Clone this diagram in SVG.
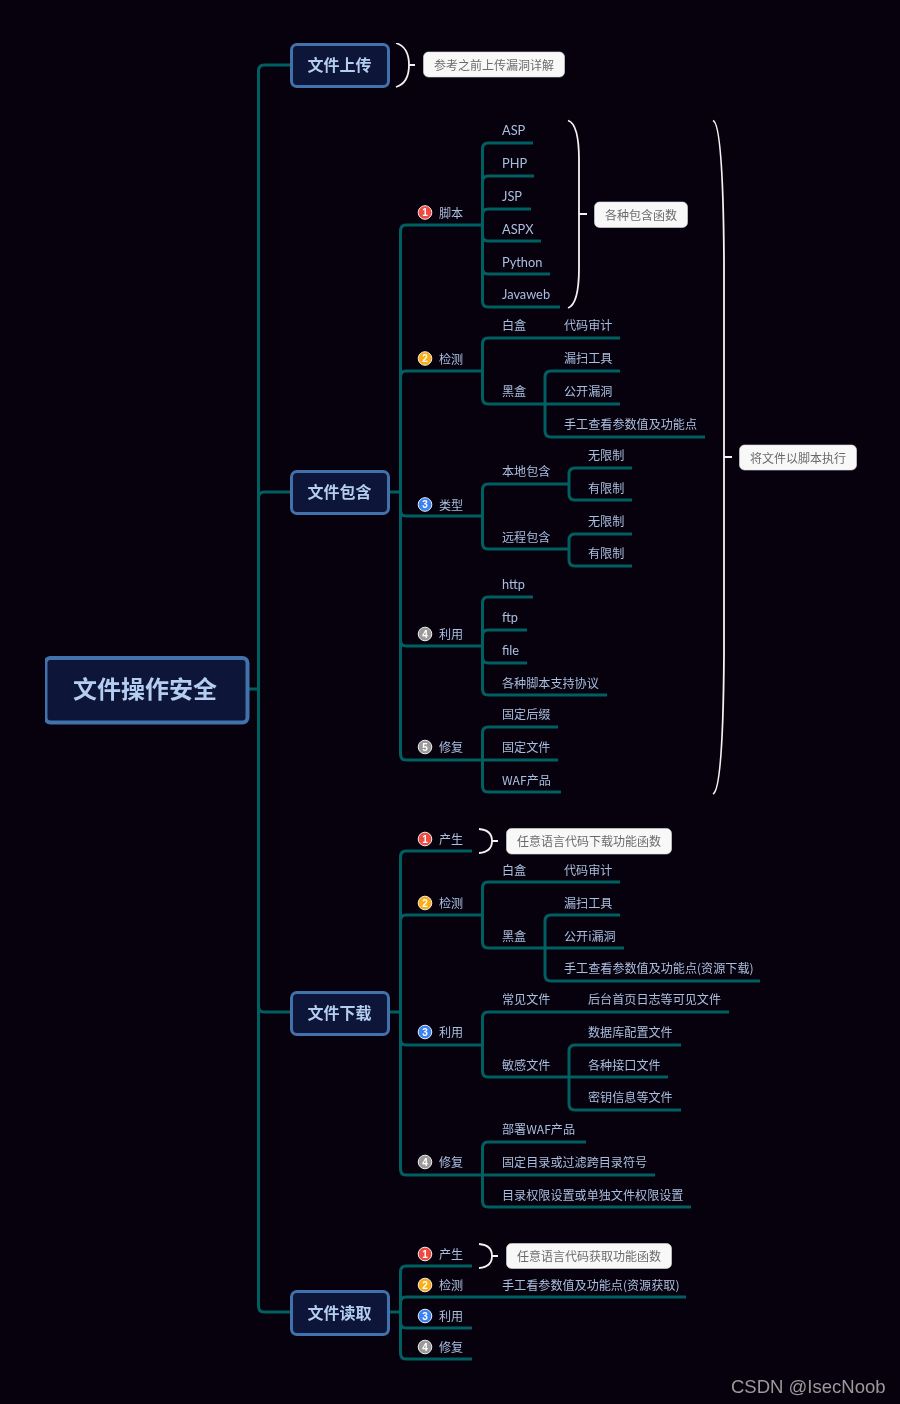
<svg xmlns="http://www.w3.org/2000/svg" width="900" height="1404" viewBox="0 0 900 1404">
<style>
.cn{fill:none;stroke:#005f61;stroke-width:3}
.br{fill:none;stroke:#f2f2f2;stroke-width:1.8}
.box{fill:#0c1537;stroke:#4272ac;stroke-width:3}
.t{font-family:"Noto Sans CJK SC","Lato",sans-serif;fill:#a9bfde;font-size:12.1px}
.l{font-family:"Lato","Noto Sans CJK SC",sans-serif;fill:#a9bfde;font-size:12.8px}
.h{font-family:"Noto Sans CJK SC",sans-serif;fill:#b4cdf0;font-size:16px;font-weight:700;text-anchor:middle}
.c{fill:#f8f8f8;stroke:#ddd;stroke-width:.6}
.ct{font-family:"Noto Sans CJK SC",sans-serif;fill:#6b6b6b;font-size:12px;text-anchor:middle}
.ring{stroke:#eee;stroke-width:1}
.n{font-family:"Liberation Sans",sans-serif;fill:#fff;font-size:10px;font-weight:700;text-anchor:middle}
</style>
<defs><filter id="soft" x="0" y="0" width="100%" height="100%"><feGaussianBlur stdDeviation="0.3"/></filter></defs>
<rect width="900" height="1404" fill="#07010e"/>
<g filter="url(#soft)">
<g id="connectors" class="cn">
<path d="M291 65H264Q258.5 65 258.5 71V1306Q258.5 1312 264 1312H291"/>
<path d="M247 689H258.5M258.5 498Q258.5 492 264 492H291M258.5 1006Q258.5 1012 264 1012H291"/>
<path d="M389 492H400M389 1012H400M389 1312H400"/>
<path d="M482 225H406Q400.500 225 400.500 231V754Q400.500 760 406 760H482M400.500 377Q400.500 371 406 371H482M400.500 510Q400.500 516 406 516H482M400.500 640Q400.500 646 406 646H482"/>
<path d="M533 143H488Q482.500 143 482.500 149V301Q482.500 307 488 307H560M482.500 182Q482.500 176 488 176H534M482.500 215Q482.500 209 488 209H531M482.500 235Q482.500 241 488 241H541M482.500 268Q482.500 274 488 274H550"/>
<path d="M620 338H488Q482.500 338 482.500 344V398Q482.500 404 488 404H620M551 371H620M705 437H551Q545 437 545 431V377Q545 371 551 371"/>
<path d="M569 484H488Q482.500 484 482.500 490V543Q482.500 549 488 549H569M632 468H575Q569 468 569 474V494Q569 500 575 500H632M632 534H575Q569 534 569 540V560Q569 566 575 566H632"/>
<path d="M533 597H488Q482.500 597 482.500 603V689Q482.500 695 488 695H607M482.500 636Q482.500 630 488 630H527M482.500 657Q482.500 663 488 663H527"/>
<path d="M558 727H488Q482.500 727 482.500 733V786Q482.500 792 488 792H561M482.500 760H558"/>
<path d="M472 851H406Q400.500 851 400.500 857V1169Q400.500 1175 406 1175H482M400.500 921Q400.500 915 406 915H482M400.500 1039Q400.500 1045 406 1045H482"/>
<path d="M620 882H488Q482.500 882 482.500 888V942Q482.500 948 488 948H624M620 915H551Q545 915 545 921V975Q545 981 551 981H760"/>
<path d="M729 1012H488Q482.500 1012 482.500 1018V1071Q482.500 1077 488 1077H668M681 1045H575Q569 1045 569 1051V1104Q569 1110 575 1110H681"/>
<path d="M586 1142H488Q482.500 1142 482.500 1148V1201Q482.500 1207 488 1207H691M482.500 1175H655"/>
<path d="M472 1266H406Q400.500 1266 400.500 1272V1353Q400.500 1359 406 1359H472M400.500 1303Q400.500 1297 406 1297H686M400.500 1322Q400.500 1328 406 1328H472"/>
</g>
<g id="root"><rect class="box" x="45.500" y="658" width="202" height="64.500" rx="5" style="stroke-width:4"/><text class="h" x="145" y="698" style="font-size:24px">文件操作安全</text></g>
<g id="n-upload"><rect class="box" x="291.500" y="44.500" width="97" height="42" rx="5.500"/><text class="h" x="339.500" y="70.500">文件上传</text></g>
<g id="n-include"><rect class="box" x="291.500" y="471.500" width="97" height="42" rx="5.500"/><text class="h" x="339.500" y="497.500">文件包含</text></g>
<g id="n-download"><rect class="box" x="291.500" y="992.500" width="97" height="42" rx="5.500"/><text class="h" x="339.500" y="1018.500">文件下载</text></g>
<g id="n-read"><rect class="box" x="291.500" y="1291.500" width="97" height="43" rx="5.500"/><text class="h" x="339.500" y="1318.500">文件读取</text></g>
<g id="note-upload"><path class="br" d="M396 43Q409 47 409 65Q409 83 396 87M409 65H415"/><rect class="c" x="423.500" y="52" width="141" height="25" rx="5"/><text class="ct" x="494" y="69.500">参考之前上传漏洞详解</text></g>
<g id="note-funcs"><path class="br" d="M568 120.500Q579 124 579 160V268Q579 304 568 308M579 214H587"/><rect class="c" x="594.500" y="202" width="93" height="25.500" rx="5"/><text class="ct" x="641" y="219.500">各种包含函数</text></g>
<g id="note-exec"><path class="br" d="M713 120.500Q723 124 724 260V654Q723 790 713 794M724 457H732"/><rect class="c" x="739.500" y="445" width="117" height="25" rx="5"/><text class="ct" x="798" y="462.500">将文件以脚本执行</text></g>
<g id="note-dl"><path class="br" d="M479 829Q492 830 492 841Q492 852 479 853M492 841H498"/><rect class="c" x="506.500" y="828.500" width="165" height="25.500" rx="5"/><text class="ct" x="589" y="846">任意语言代码下载功能函数</text></g>
<g id="note-rd"><path class="br" d="M479 1244Q492 1245 492 1256Q492 1267 479 1268M492 1256H498"/><rect class="c" x="506.500" y="1243.500" width="165" height="25" rx="5"/><text class="ct" x="589" y="1260.500">任意语言代码获取功能函数</text></g>
<g id="i-include-1"><circle class="ring" cx="425" cy="212.500" r="6.800" fill="#f04a43"/><text class="n" x="425" y="216">1</text><text class="t" x="439" y="217.500">脚本</text></g>
<g id="i-include-2"><circle class="ring" cx="425" cy="358.500" r="6.800" fill="#fbad14"/><text class="n" x="425" y="362">2</text><text class="t" x="439" y="363.500">检测</text></g>
<g id="i-include-3"><circle class="ring" cx="425" cy="504.500" r="6.800" fill="#3a82f6"/><text class="n" x="425" y="508">3</text><text class="t" x="439" y="509.500">类型</text></g>
<g id="i-include-4"><circle class="ring" cx="425" cy="634" r="6.800" fill="#9a9a9a"/><text class="n" x="425" y="637.500">4</text><text class="t" x="439" y="639">利用</text></g>
<g id="i-include-5"><circle class="ring" cx="425" cy="747" r="6.800" fill="#9a9a9a"/><text class="n" x="425" y="750.500">5</text><text class="t" x="439" y="752">修复</text></g>
<g id="i-dl-1"><circle class="ring" cx="425" cy="839" r="6.800" fill="#f04a43"/><text class="n" x="425" y="842.500">1</text><text class="t" x="439" y="844">产生</text></g>
<g id="i-dl-2"><circle class="ring" cx="425" cy="903" r="6.800" fill="#fbad14"/><text class="n" x="425" y="906.500">2</text><text class="t" x="439" y="908">检测</text></g>
<g id="i-dl-3"><circle class="ring" cx="425" cy="1032" r="6.800" fill="#3a82f6"/><text class="n" x="425" y="1035.500">3</text><text class="t" x="439" y="1037">利用</text></g>
<g id="i-dl-4"><circle class="ring" cx="425" cy="1162" r="6.800" fill="#9a9a9a"/><text class="n" x="425" y="1165.500">4</text><text class="t" x="439" y="1167">修复</text></g>
<g id="i-rd-1"><circle class="ring" cx="425" cy="1254" r="6.800" fill="#f04a43"/><text class="n" x="425" y="1257.500">1</text><text class="t" x="439" y="1259">产生</text></g>
<g id="i-rd-2"><circle class="ring" cx="425" cy="1285" r="6.800" fill="#fbad14"/><text class="n" x="425" y="1288.500">2</text><text class="t" x="439" y="1290">检测</text></g>
<g id="i-rd-3"><circle class="ring" cx="425" cy="1316" r="6.800" fill="#3a82f6"/><text class="n" x="425" y="1319.500">3</text><text class="t" x="439" y="1321">利用</text></g>
<g id="i-rd-4"><circle class="ring" cx="425" cy="1347" r="6.800" fill="#9a9a9a"/><text class="n" x="425" y="1350.500">4</text><text class="t" x="439" y="1352">修复</text></g>
<g id="labels-include">
<text class="l" x="502" y="134.500">ASP</text><text class="l" x="502" y="167.500">PHP</text><text class="l" x="502" y="200.500">JSP</text><text class="l" x="502" y="233.500">ASPX</text><text class="l" x="502" y="266.500">Python</text><text class="l" x="502" y="299">Javaweb</text>
<text class="t" x="502" y="330">白盒</text><text class="t" x="564" y="330">代码审计</text><text class="t" x="564" y="363">漏扫工具</text><text class="t" x="502" y="396">黑盒</text><text class="t" x="564" y="396">公开漏洞</text><text class="t" x="564" y="429">手工查看参数值及功能点</text>
<text class="t" x="502" y="476">本地包含</text><text class="t" x="588" y="460">无限制</text><text class="t" x="588" y="493">有限制</text><text class="t" x="502" y="542">远程包含</text><text class="t" x="588" y="525.500">无限制</text><text class="t" x="588" y="558">有限制</text>
<text class="l" x="502" y="589">http</text><text class="l" x="502" y="622">ftp</text><text class="l" x="502" y="654.500">file</text><text class="t" x="502" y="688">各种脚本支持协议</text>
<text class="t" x="502" y="719">固定后缀</text><text class="t" x="502" y="751.500">固定文件</text><text class="t" x="502" y="784.500">WAF产品</text>
</g>
<g id="labels-download">
<text class="t" x="502" y="874.500">白盒</text><text class="t" x="564" y="874.500">代码审计</text><text class="t" x="564" y="907.500">漏扫工具</text><text class="t" x="502" y="940.500">黑盒</text><text class="t" x="564" y="940.500">公开i漏洞</text><text class="t" x="564" y="973">手工查看参数值及功能点(资源下载)</text>
<text class="t" x="502" y="1004">常见文件</text><text class="t" x="588" y="1004">后台首页日志等可见文件</text><text class="t" x="502" y="1069.500">敏感文件</text><text class="t" x="588" y="1036.500">数据库配置文件</text><text class="t" x="588" y="1069.500">各种接口文件</text><text class="t" x="588" y="1102">密钥信息等文件</text>
<text class="t" x="502" y="1134">部署WAF产品</text><text class="t" x="502" y="1166.500">固定目录或过滤跨目录符号</text><text class="t" x="502" y="1199.500">目录权限设置或单独文件权限设置</text>
</g>
<g id="labels-read"><text class="t" x="502" y="1289.500">手工看参数值及功能点(资源获取)</text></g>
<text x="731" y="1393" font-family="Liberation Sans,sans-serif" font-size="18.500" fill="#9a9a9a">CSDN @IsecNoob</text>
</g>
</svg>
